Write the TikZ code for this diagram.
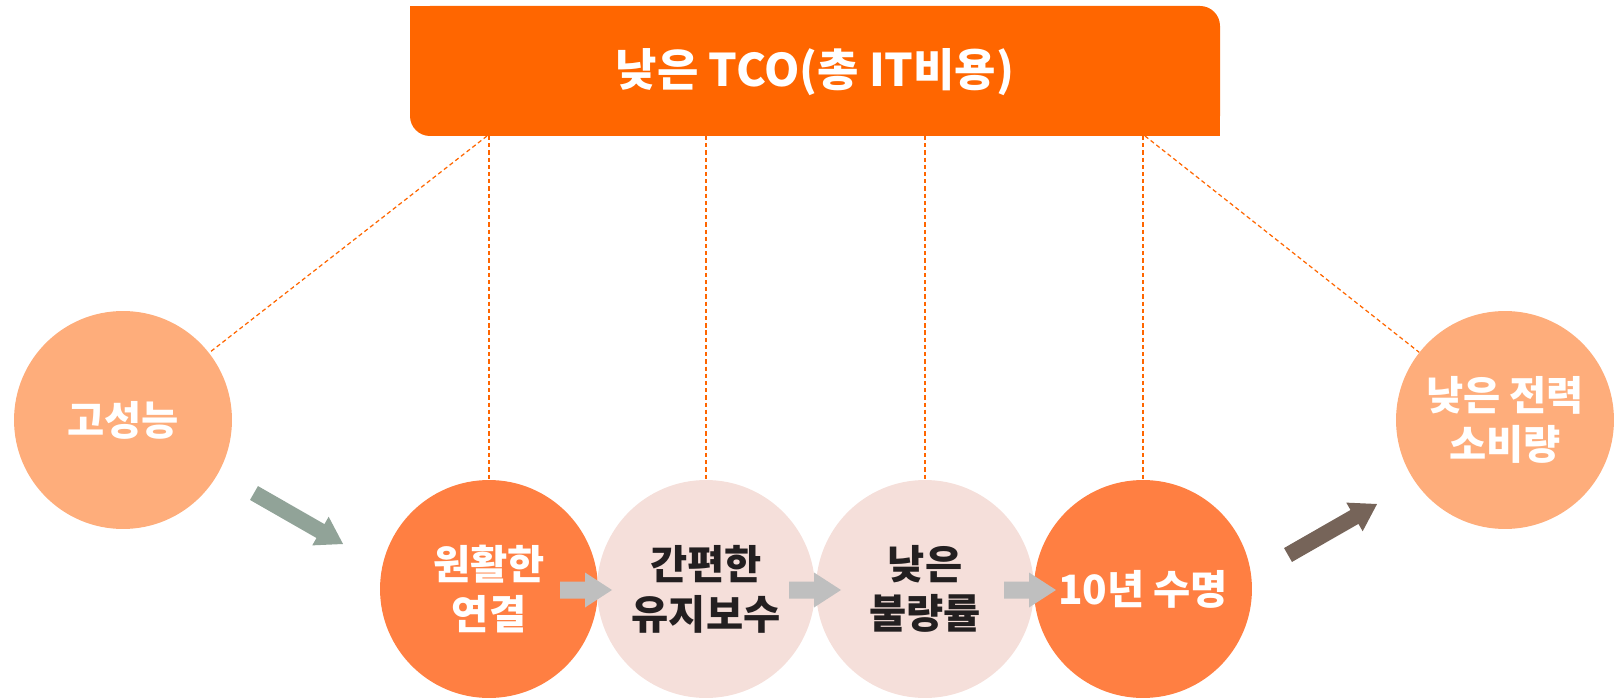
\documentclass[tikz,border=0pt]{standalone}
\usepackage{fontspec}
\setmainfont{Noto Sans CJK KR}
\definecolor{tcoorange}{HTML}{FF6600}
\definecolor{lightor}{HTML}{FEAD7B}
\definecolor{midor}{HTML}{FF7F42}
\definecolor{pinkc}{HTML}{F5DFDA}
\definecolor{grayarr}{HTML}{BFBFBF}
\definecolor{greenarr}{HTML}{91A398}
\definecolor{brownarr}{HTML}{766459}
\definecolor{darktext}{HTML}{231F20}
\newcommand\mycircfont{\fontsize{23}{28.3}\selectfont\bfseries}
\newcommand\mytitlefont{\fontsize{25.6}{30}\selectfont\bfseries}
\begin{document}
\begin{tikzpicture}[x=0.02cm,y=-0.02cm,
  circ/.style={circle, minimum size=4.36cm, inner sep=0pt, align=center, font=\mycircfont},
  darkc/.style={circ, fill=midor, text=white},
  lightc/.style={circ, fill=lightor, text=white},
  pinkcirc/.style={circ, fill=pinkc, text=darktext},
  dashline/.style={draw=tcoorange, line width=0.7pt, dash pattern=on 2.4pt off 1.7pt}
]
\useasboundingbox (0,0) rectangle (1624,699);
% title banner
\fill[tcoorange, rounded corners=0.4cm] (410,6) rectangle (1220,136);
\fill[tcoorange] (410,6) rectangle (450,46);
\fill[tcoorange] (1180,96) rectangle (1220,136);
\node[text=white, font=\mytitlefont] (tco) at (815,72) {낮은 TCO(총 IT비용)};
\coordinate (rb) at (815,136);
\coordinate (tl) at (487,136);
\coordinate (tr) at (1145,136);
% circles
\node[lightc] (c1) at (123,420) {고성능};
\node[darkc] (c2) at (489,589) {원활한\\연결};
\node[pinkcirc] (c3) at (706,589) {간편한\\유지보수};
\node[pinkcirc] (c4) at (925,589) {낮은\\불량률};
\node[darkc] (c5) at (1143,589) {10년 수명};
\node[lightc] (c6) at (1505,420) {낮은 전력\\소비량};
% dashed links
\draw[dashline] (tl) -- (c1);
\draw[dashline] (tr) -- (c6);
\foreach \c in {c2,c3,c4,c5}{
  \draw[dashline] (\c.north |- rb) -- (\c.north);
}
% gray block arrows between circles
\foreach \xx in {560,789,1004}{
  \fill[grayarr] (\xx,590) ++(0,-8.5) -- ++(25,0) -- ++(0,-9) -- ++(27,17.5) -- ++(-27,17.5) -- ++(0,-9) -- ++(-25,0) -- cycle;
}
% big arrows
\begin{scope}[shift={(254,493)}, rotate=-29.8]
  \fill[greenarr] (0,-8) -- (76.6,-8) -- (76.6,-16.5) -- (102.6,0) -- (76.6,16.5) -- (76.6,8) -- (0,8) -- cycle;
\end{scope}
\begin{scope}[shift={(1288,555)}, rotate=29.8]
  \fill[brownarr] (0,-8) -- (76.6,-8) -- (76.6,-16.5) -- (102.6,0) -- (76.6,16.5) -- (76.6,8) -- (0,8) -- cycle;
\end{scope}
\end{tikzpicture}
\end{document}
